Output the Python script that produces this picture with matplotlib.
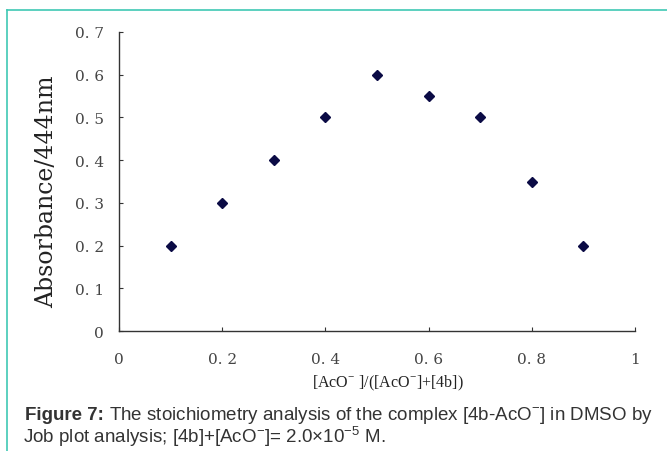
import matplotlib
matplotlib.use('Agg')
from matplotlib import pyplot as plt
from matplotlib.lines import Line2D

# Job plot data
mole_fraction = [0.1, 0.2, 0.3, 0.4, 0.5, 0.6, 0.7, 0.8, 0.9]
absorbance = [0.2, 0.3, 0.4, 0.5, 0.6, 0.55, 0.5, 0.35, 0.2]

x_ticks = [0, 0.2, 0.4, 0.6, 0.8, 1]
x_ticklabels = ["0", "0. 2", "0. 4", "0. 6", "0. 8", "1"]
y_ticks = [0, 0.1, 0.2, 0.3, 0.4, 0.5, 0.6, 0.7]
y_ticklabels = ["0", "0. 1", "0. 2", "0. 3", "0. 4", "0. 5", "0. 6", "0. 7"]

W, H = 667, 452
fig = plt.figure(figsize=(W / 100, H / 100), dpi=100)
fig.patch.set_facecolor('white')

ax = fig.add_axes([119 / W, 1 - 332 / H, (635 - 119) / W, (332 - 33) / H])
ax.plot(mole_fraction, absorbance, linestyle='none', marker='D',
        markersize=5.5, color='#0b0b45')
ax.set_xlim(0, 1)
ax.set_ylim(0, 0.7)
ax.set_xticks(x_ticks)
ax.set_xticklabels(x_ticklabels)
ax.set_yticks(y_ticks)
ax.set_yticklabels(y_ticklabels)
for s in ['top', 'right']:
    ax.spines[s].set_visible(False)
for s in ['left', 'bottom']:
    ax.spines[s].set_color('#333333')
    ax.spines[s].set_linewidth(1.0)
ax.tick_params(direction='in', length=3, width=0.8, color='#333333',
               labelcolor='#444444', labelsize=11)
ax.tick_params(axis='x', pad=15)
ax.tick_params(axis='y', pad=11)
for lab in ax.get_xticklabels() + ax.get_yticklabels():
    lab.set_family('DejaVu Serif')

fig.text(47 / W, 1 - 192 / H, 'Absorbance/444nm', rotation=90,
         ha='center', va='center', family='DejaVu Serif', fontsize=17,
         color='#222222')
fig.text(388 / W, 1 - 383 / H,
         r'[AcO$^{\mathregular{-}}$ ]/([AcO$^{\mathregular{-}}$]+[4b])',
         ha='center', va='center', family='Liberation Serif',
         fontsize=11.5, color='#222222')

# caption
cap_font = 'Liberation Sans'
t1 = fig.text(25 / W, 1 - 420 / H, 'Figure 7:', weight='bold',
              family=cap_font, fontsize=13.5, color='#333333',
              ha='left', va='baseline')
fig.canvas.draw()
bb = t1.get_window_extent()
fig.text((bb.x1 + 5) / W, 1 - 420 / H,
         r'The stoichiometry analysis of the complex [4b-AcO$^{\mathregular{-}}$] in DMSO by',
         ha='left', va='baseline', family=cap_font, fontsize=13.5,
         color='#333333')
fig.text(23 / W, 1 - 443 / H,
         r'Job plot analysis; [4b]+[AcO$^{\mathregular{-}}$]= 2.0×10$^{\mathregular{-5}}$ M.',
         family=cap_font, fontsize=13.5, color='#333333',
         ha='left', va='baseline')

# teal frame
teal = '#3fc8b4'
fig.add_artist(Line2D([7 / W, 1], [1 - 11 / H, 1 - 11 / H], color=teal,
                      linewidth=1.2, transform=fig.transFigure))
fig.add_artist(Line2D([7 / W, 7 / W], [0, 1 - 11 / H], color=teal,
                      linewidth=1.2, transform=fig.transFigure))

plt.savefig('out.png', dpi=100)
